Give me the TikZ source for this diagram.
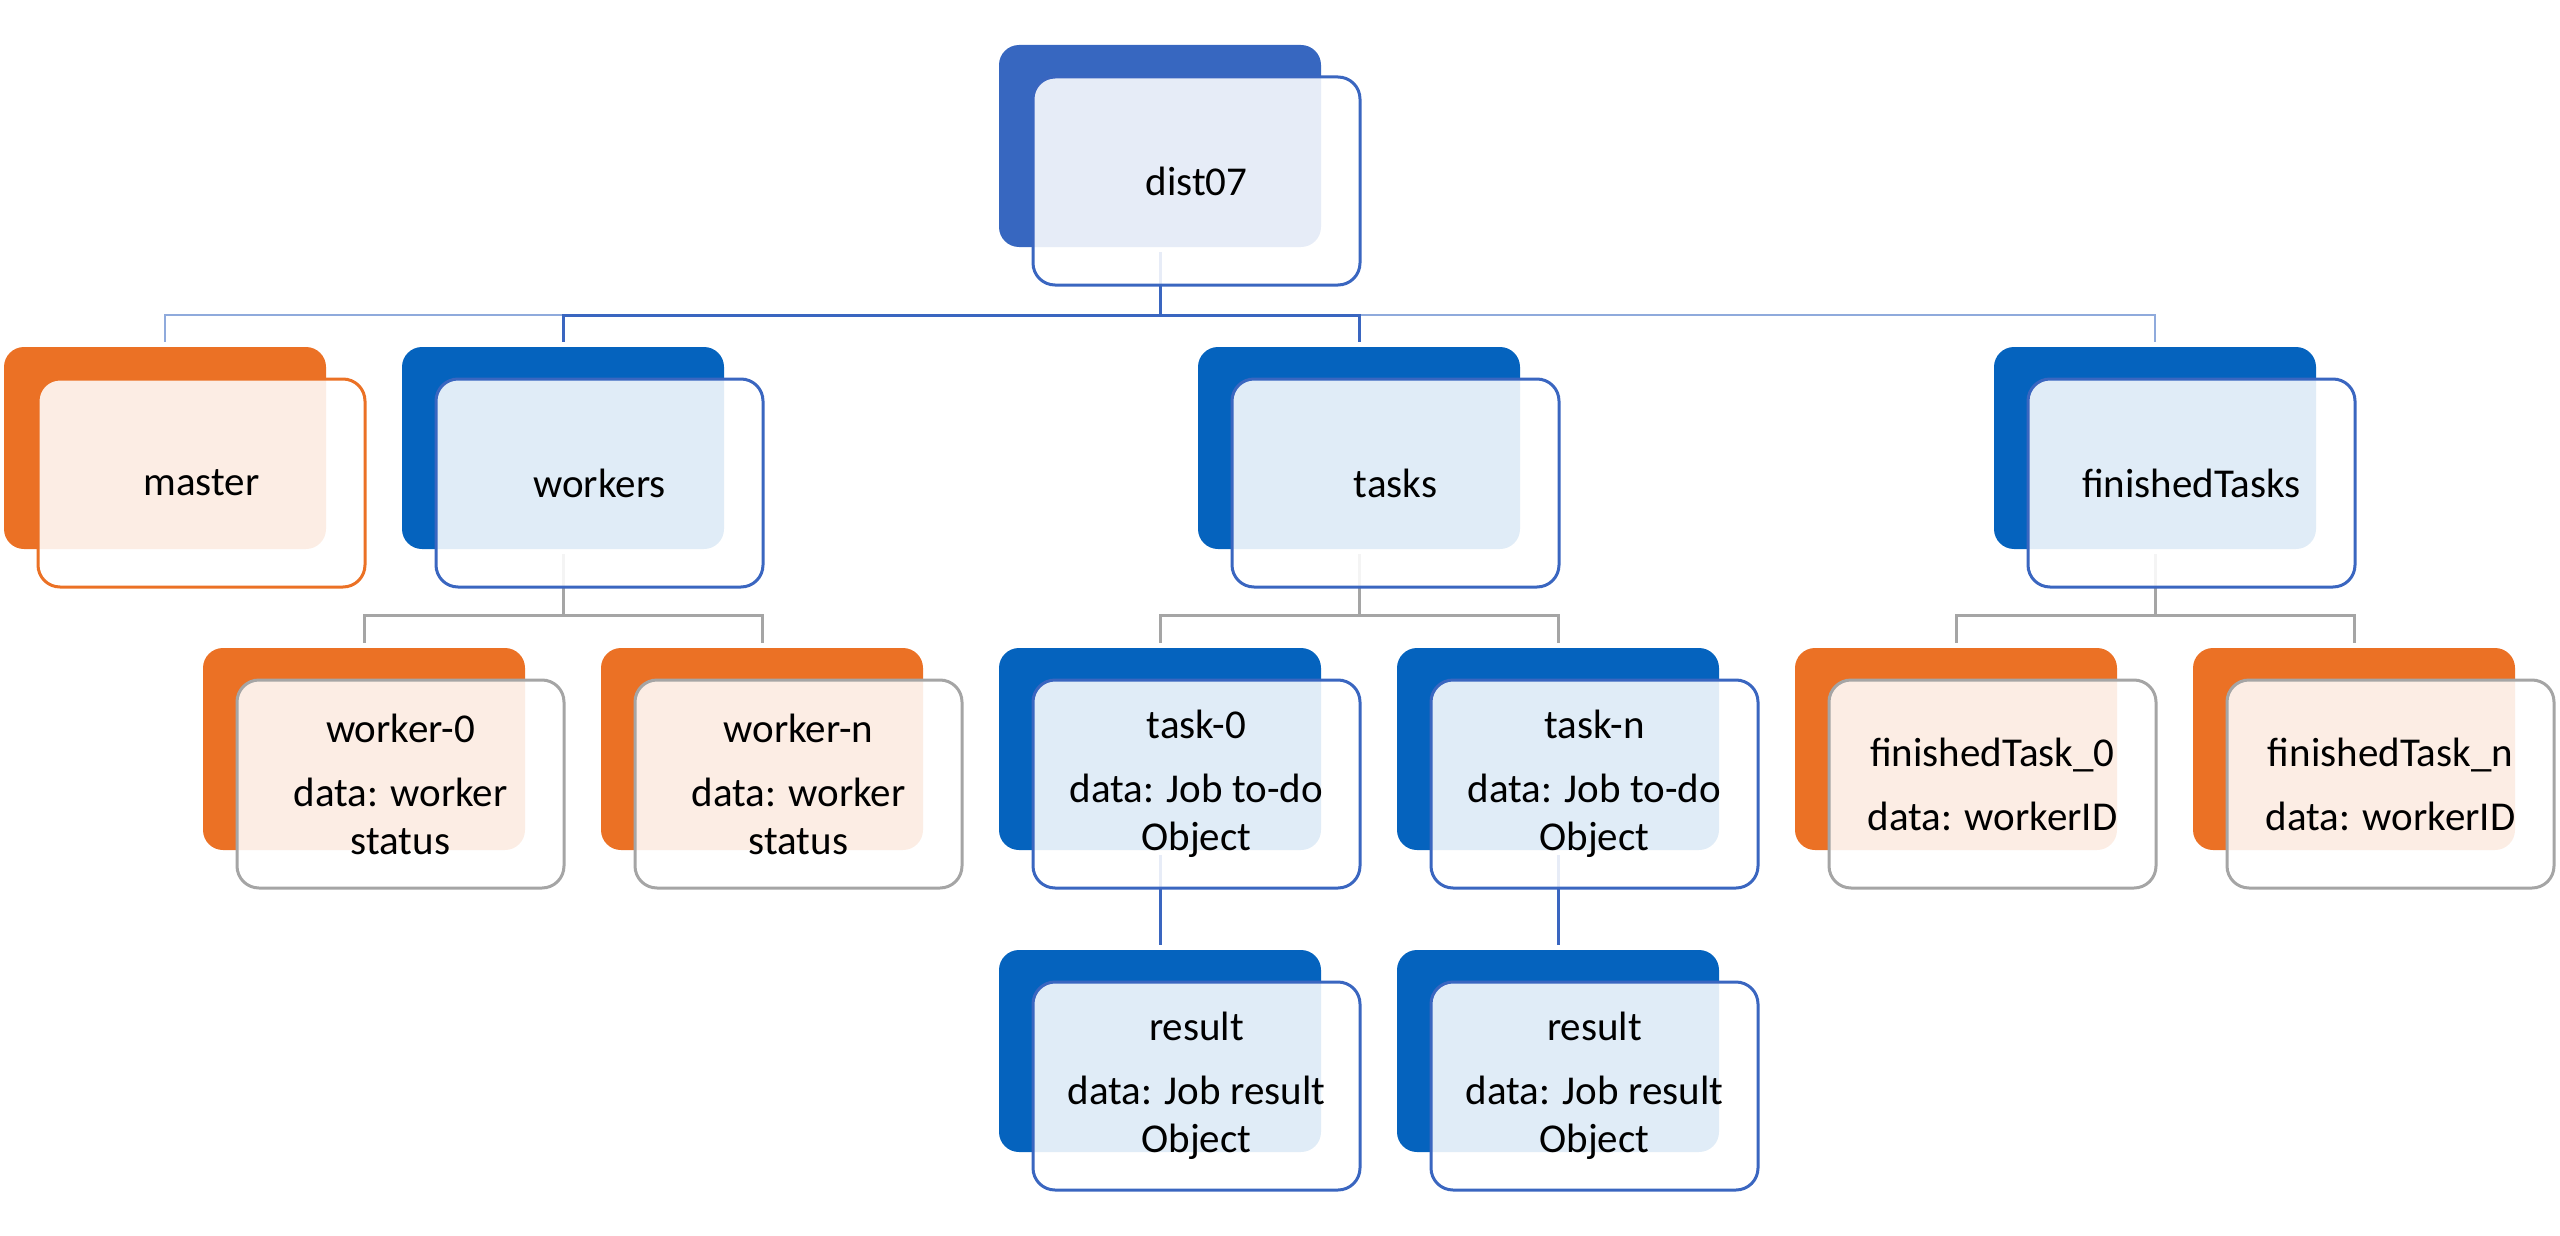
\documentclass[tikz,border=0pt]{standalone}
\usepackage{fontspec}
\setmainfont{Carlito}
\usetikzlibrary{calc}
\definecolor{dbk}{HTML}{3767C0}
\definecolor{bbk}{HTML}{0563BE}
\definecolor{obk}{HTML}{EB7125}
\definecolor{bst}{HTML}{3A66C0}
\definecolor{gst}{HTML}{A5A5A5}
\definecolor{lbl}{HTML}{8FAADC}
\tikzset{
  backbase/.style={rectangle, rounded corners=10pt, minimum width=161pt, minimum height=101pt, inner sep=0pt, outer sep=0pt, draw=none},
  frontbase/.style={rectangle, rounded corners=11pt, minimum width=163.5pt, minimum height=104pt, inner sep=0pt, outer sep=0pt, fill=white, fill opacity=0.88, text opacity=1, line width=1.5pt, align=center, font=\fontsize{20.5}{24}\selectfont},
  topback/.style={backbase, fill=dbk},
  blueback/.style={backbase, fill=bbk},
  orangeback/.style={backbase, fill=obk},
  bluefront/.style={frontbase, draw=bst},
  orangefront/.style={frontbase, draw=obk},
  grayfront/.style={frontbase, draw=gst},
  blueconn/.style={draw=bst, line width=1.5pt, shorten <=2.5pt, shorten >=2.5pt},
  thinconn/.style={draw=lbl, line width=0.7pt, shorten <=2.5pt, shorten >=2.5pt},
  grayconn/.style={draw=gst, line width=1.5pt, shorten <=2.5pt, shorten >=2.5pt},
}
\newcommand\backbox[4]{\node[#4] (#1) at ({#2+161},{#3+101}) {};}
\newcommand\frontbox[5]{\node[#4] (#1) at ({#2+197.5},{#3+136}) {#5};}
\begin{document}
\begin{tikzpicture}[x=0.5pt,y=-0.5pt]
\useasboundingbox (0,0) rectangle (2560,1236);
% back shapes
\backbox{d0b}{999}{45}{topback}
\backbox{mab}{4}{347}{orangeback}
\backbox{wkb}{402}{347}{blueback}
\backbox{tkb}{1198}{347}{blueback}
\backbox{ftb}{1994}{347}{blueback}
\backbox{w0b}{203}{648}{orangeback}
\backbox{wnb}{601}{648}{orangeback}
\backbox{t0b}{999}{648}{blueback}
\backbox{tnb}{1397}{648}{blueback}
\backbox{f0b}{1795}{648}{orangeback}
\backbox{fnb}{2193}{648}{orangeback}
\backbox{r0b}{999}{950}{blueback}
\backbox{rnb}{1397}{950}{blueback}
% connectors
\coordinate (bus1) at (0,315);
\coordinate (bus2) at (0,615);
\draw[thinconn] (d0b.south) -- (d0b.south |- bus1) -| (mab.north);
\draw[thinconn] (d0b.south) -- (d0b.south |- bus1) -| (ftb.north);
\draw[blueconn] (d0b.south) -- (d0b.south |- bus1) -| (wkb.north);
\draw[blueconn] (d0b.south) -- (d0b.south |- bus1) -| (tkb.north);
\draw[grayconn] (wkb.south) -- (wkb.south |- bus2) -| (w0b.north);
\draw[grayconn] (wkb.south) -- (wkb.south |- bus2) -| (wnb.north);
\draw[grayconn] (tkb.south) -- (tkb.south |- bus2) -| (t0b.north);
\draw[grayconn] (tkb.south) -- (tkb.south |- bus2) -| (tnb.north);
\draw[grayconn] (ftb.south) -- (ftb.south |- bus2) -| (f0b.north);
\draw[grayconn] (ftb.south) -- (ftb.south |- bus2) -| (fnb.north);
\draw[blueconn] (t0b.south) -- (r0b.north);
\draw[blueconn] (tnb.south) -- (rnb.north);
% front shapes with text
\frontbox{d0f}{999}{45}{bluefront}{dist07}
\frontbox{maf}{4}{347}{orangefront}{master}
\frontbox{wkf}{402}{347}{bluefront}{workers}
\frontbox{tkf}{1198}{347}{bluefront}{tasks}
\frontbox{ftf}{1994}{347}{bluefront}{finishedTasks}
\frontbox{w0f}{203}{648}{grayfront}{worker-0\\[8pt]data: worker\\status}
\frontbox{wnf}{601}{648}{grayfront}{worker-n\\[8pt]data: worker\\status}
\frontbox{t0f}{999}{648}{bluefront}{task-0\\[8pt]data: Job to-do\\Object}
\frontbox{tnf}{1397}{648}{bluefront}{task-n\\[8pt]data: Job to-do\\Object}
\frontbox{f0f}{1795}{648}{grayfront}{finishedTask\_0\\[8pt]data: workerID}
\frontbox{fnf}{2193}{648}{grayfront}{finishedTask\_n\\[8pt]data: workerID}
\frontbox{r0f}{999}{950}{bluefront}{result\\[8pt]data: Job result\\Object}
\frontbox{rnf}{1397}{950}{bluefront}{result\\[8pt]data: Job result\\Object}
\end{tikzpicture}
\end{document}
